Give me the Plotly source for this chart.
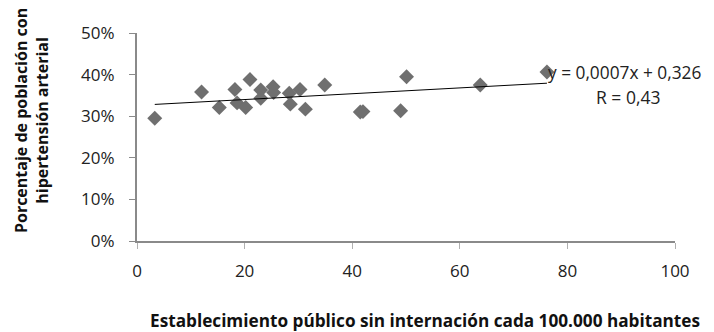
import plotly.graph_objects as go

# Data
x_vals = [3.3, 12.0, 15.3, 18.2, 18.6, 20.2, 21.0, 23.0, 23.0, 25.3, 25.4,
          28.3, 28.5, 30.3, 31.3, 34.9, 41.5, 42.0, 49.0, 50.1, 63.8, 76.2]
y_vals = [0.295, 0.358, 0.321, 0.364, 0.332, 0.321, 0.388, 0.363, 0.343, 0.371, 0.357,
          0.355, 0.329, 0.364, 0.317, 0.375, 0.310, 0.311, 0.313, 0.395, 0.375, 0.406]
trend_coef = [0.0007, 0.326]  # slope, intercept
equation_text = "y = 0,0007x + 0,326"
r_text = "R = 0,43"
y_ticks = [0, 0.1, 0.2, 0.3, 0.4, 0.5]
y_tick_labels = ["0%", "10%", "20%", "30%", "40%", "50%"]
x_ticks = [0, 20, 40, 60, 80, 100]
x_title = "Establecimiento público sin internación cada 100.000 habitantes"
y_title = "Porcentaje de población con<br>hipertensión arterial"

FONT = "Open Sans"
AXIS_COLOR = "#8a8a8a"

fig = go.Figure()

fig.add_trace(go.Scatter(
    x=x_vals, y=y_vals, mode="markers",
    marker=dict(symbol="diamond", size=11.5, color="#6f6f6f", line=dict(width=0)),
    showlegend=False, hoverinfo="skip",
))

x0, x1 = min(x_vals), max(x_vals)
fig.add_trace(go.Scatter(
    x=[x0, x1],
    y=[trend_coef[0] * x0 + trend_coef[1], trend_coef[0] * x1 + trend_coef[1]],
    mode="lines", line=dict(color="#000000", width=1),
    showlegend=False, hoverinfo="skip",
))

fig.update_layout(
    width=706, height=324,
    margin=dict(l=129, r=39, t=25, b=91),
    paper_bgcolor="white", plot_bgcolor="white",
    font=dict(family=FONT, size=16, color="#222222"),
    xaxis=dict(
        range=[0, 100], tickvals=x_ticks, ticktext=[str(v) for v in x_ticks],
        showgrid=False, zeroline=False, showline=True, linecolor=AXIS_COLOR, linewidth=2,
        ticks="outside", ticklen=6, tickcolor="#b0b0b0", tickwidth=1,
        ticklabelstandoff=8,
        tickfont=dict(size=17, family=FONT, color="#222222"),
    ),
    yaxis=dict(
        range=[0, 0.5], tickvals=y_ticks, ticktext=y_tick_labels,
        showgrid=False, zeroline=False, showline=True, linecolor=AXIS_COLOR, linewidth=2,
        ticks="outside", ticklen=6, tickcolor=AXIS_COLOR, tickwidth=1,
        ticklabelstandoff=11,
        tickfont=dict(size=17, family=FONT, color="#222222"),
    ),
)

fig.add_annotation(
    text=equation_text, x=76, y=0.405, xref="x", yref="y",
    xanchor="left", yanchor="middle", showarrow=False,
    font=dict(size=17.3, family=FONT, color="#222222"),
)
fig.add_annotation(
    text=r_text, x=91.3, y=0.346, xref="x", yref="y",
    xanchor="center", yanchor="middle", showarrow=False,
    font=dict(size=17.5, family=FONT, color="#222222"),
)
fig.add_annotation(
    text="<b>" + x_title + "</b>", x=0.536, y=-0.380, xref="paper", yref="paper",
    xanchor="center", yanchor="middle",
    showarrow=False, font=dict(size=17.2, family=FONT, color="#111111"),
)
fig.add_annotation(
    text="<b>" + y_title + "</b>", x=-0.195, y=0.577, xref="paper", yref="paper",
    xanchor="center", yanchor="middle", textangle=-90,
    showarrow=False, font=dict(size=16, family=FONT, color="#111111"),
)

fig.write_html("out.html")
